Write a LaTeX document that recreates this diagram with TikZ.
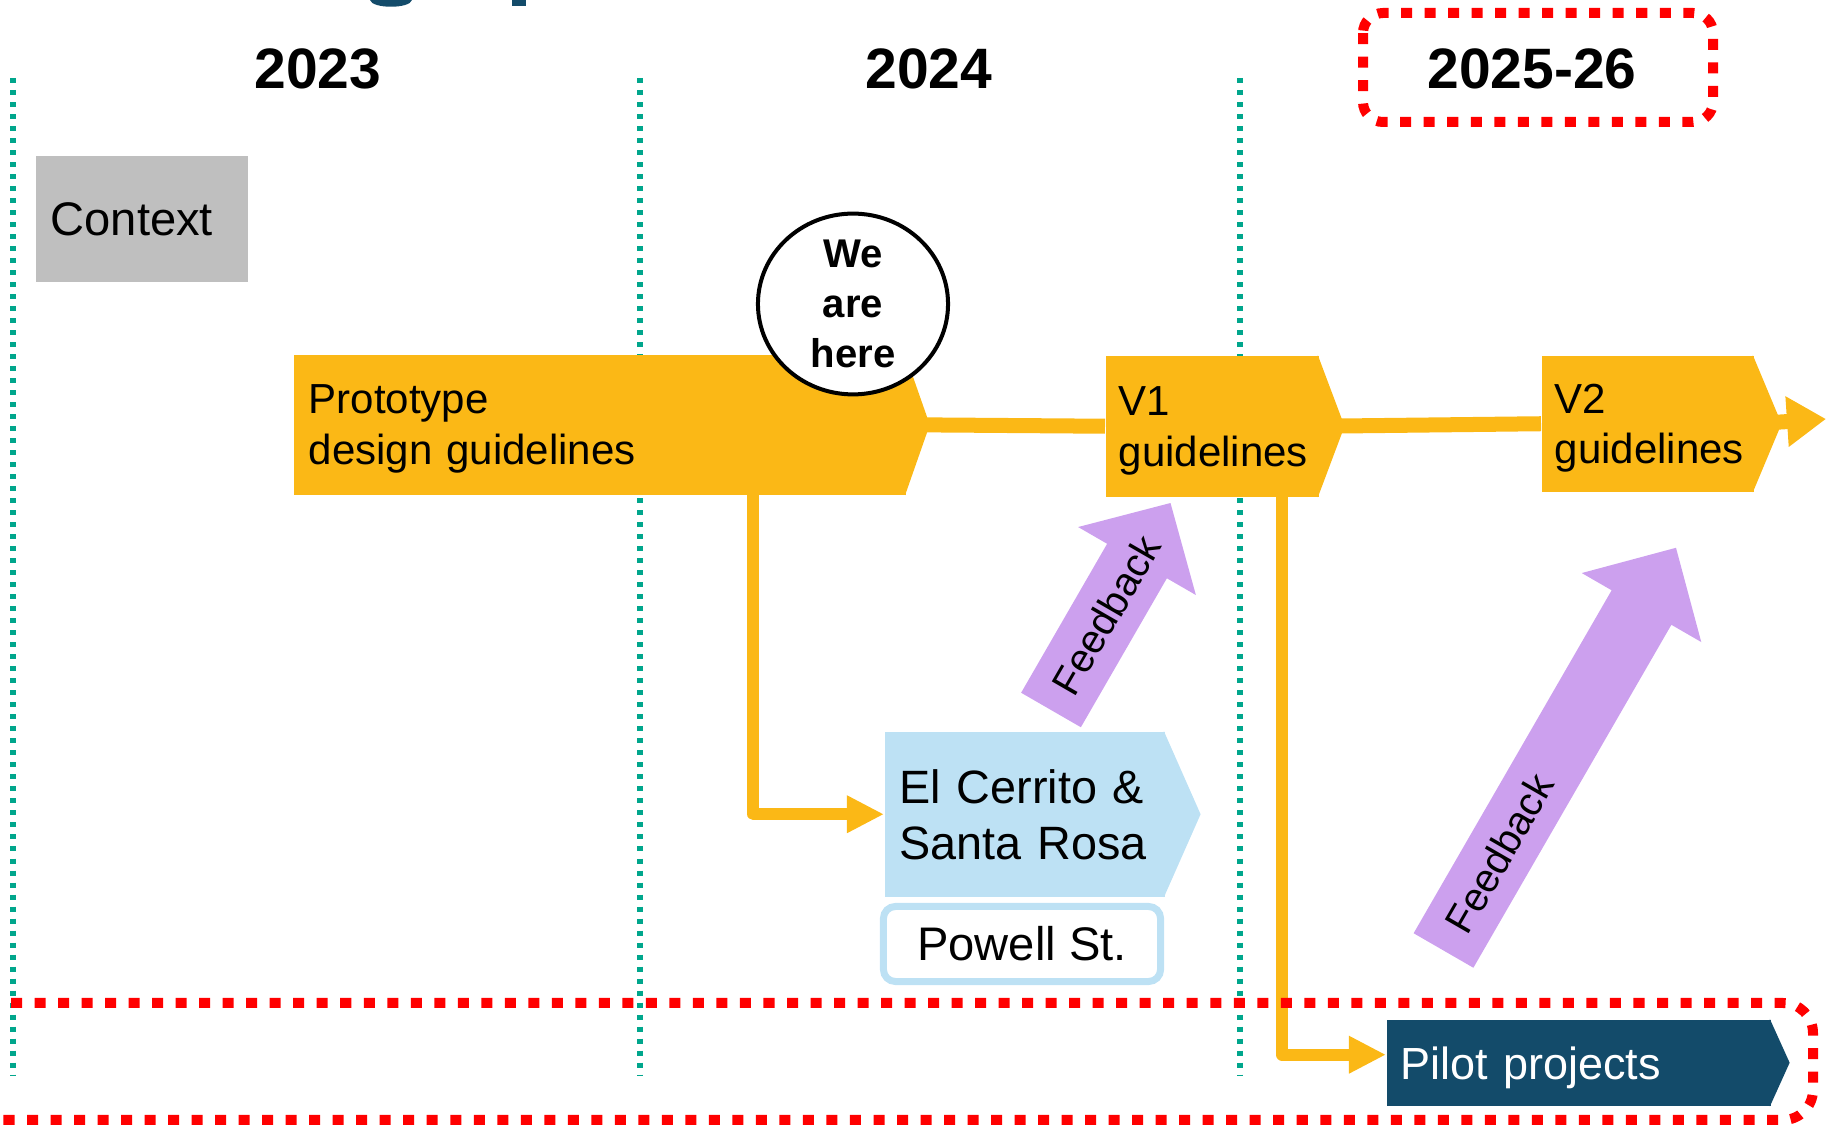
\documentclass[tikz,border=0pt]{standalone}
\usepackage{fontspec}
\setmainfont{Liberation Sans}
\usepackage{tikz}
\usetikzlibrary{arrows.meta,shapes.geometric,backgrounds}

\definecolor{guidegold}{RGB}{251,184,22}
\definecolor{divteal}{RGB}{0,166,140}
\definecolor{contextgray}{RGB}{191,191,191}
\definecolor{sitesblue}{RGB}{189,225,244}
\definecolor{fbpurple}{RGB}{204,160,238}
\definecolor{pilotnavy}{RGB}{19,75,106}
\definecolor{focusred}{RGB}{255,0,0}

% pointed right end of a stage box
\newcommand{\chevtip}[3]{\fill[#3] ([xshift=-0.5pt]#1.north east) -- ([xshift=#2]#1.east) -- ([xshift=-0.5pt]#1.south east) -- cycle;}

\begin{document}
\begin{tikzpicture}[x=0.01cm, y=-0.01cm]

% Define styles
\tikzstyle{year} = [font=\fontsize{16.2}{19}\selectfont\bfseries]
\tikzstyle{divider} = [draw=divteal, line width=0.06cm, dash pattern=on 0.05cm off 0.07cm]
\tikzstyle{focus} = [draw=focusred, line width=0.1cm, dash pattern=on 0.11cm off 0.125cm]
\tikzstyle{stage} = [anchor=north west, inner ysep=0pt, align=left, text depth=0pt]
\tikzstyle{guide} = [stage, fill=guidegold, inner xsep=0.13cm, text depth=14.4pt, font=\fontsize{11.95}{14.4}\selectfont]
\tikzstyle{spine} = [draw=guidegold, line width=0.15cm]
\tikzstyle{link} = [draw=guidegold, line width=0.12cm, line join=round, -{Triangle[length=0.37cm, width=0.35cm]}]
\tikzstyle{feedback} = [fill=fbpurple]
\tikzstyle{fbtext} = [font=\fontsize{11.4}{13}\selectfont, rotate=60]

\useasboundingbox (0,0) rectangle (1826,1125);

% title descenders cut off at the top
\fill[pilotnavy] (370,0) .. controls (372,9) and (410,9) .. (412,0) -- cycle;
\fill[pilotnavy] (512,0) rectangle (526,6);

% Years
\node[year] (y2023) at (318,69) {2023};
\node[year] (y2024) at (929,69) {2024};
\node[year] (y2025) at (1532,69) {2025-26};

% Context
\node[stage, fill=contextgray, inner xsep=0.15cm, text width=1.82cm, minimum height=1.26cm,
  font=\fontsize{13.4}{16}\selectfont] (context) at (35,155) {Context};

% Guideline stages
\node[guide, inner xsep=0.15cm, text width=5.82cm, minimum height=1.4cm] (proto) at (293,354) {Prototype\\design guidelines};
\node[guide, text width=1.87cm, minimum height=1.41cm] (v1) at (1105,355) {V1\\guidelines};
\node[guide, text width=1.86cm, minimum height=1.36cm] (v2) at (1541,355) {V2\\guidelines};
\chevtip{proto}{0.23cm}{guidegold}
\chevtip{v1}{0.25cm}{guidegold}
\chevtip{v2}{0.27cm}{guidegold}

% Sites
\node[stage, fill=sitesblue, inner xsep=0.15cm, text width=2.5cm, minimum height=1.65cm, text depth=15.9pt,
  font=\fontsize{13.3}{15.9}\selectfont] (cerrito) at (884,731) {El Cerrito \&\\Santa Rosa};
\chevtip{cerrito}{0.35cm}{sitesblue}
\node[draw=sitesblue, line width=0.07cm, fill=white, rounded corners=0.12cm, minimum width=2.77cm,
  minimum height=0.75cm, font=\fontsize{13.4}{16}\selectfont] (powell) at (1022,944) {Powell St.};

% Pilot projects
\node[stage, fill=pilotnavy, text=white, inner xsep=0.14cm, text width=3.56cm, minimum height=0.86cm,
  font=\fontsize{12.8}{15}\selectfont] (pilot) at (1386,1019) {Pilot projects};
\chevtip{pilot}{0.18cm}{pilotnavy}

\coordinate (ahead) at (1826,419);

% Dividers and connectors behind the boxes
\begin{scope}[on background layer]
\foreach \x in {13,640,1240} {
  \draw[divider] (\x,78) -- (\x,1075);
}
\draw[spine] (proto.east) -- (v1.west);
\draw[spine] (v1.east) -- (v2.west);
\draw[spine, -{Triangle[length=0.39cm, width=0.48cm]}] (v2.east) -- (ahead);
\draw[link] ([xshift=4.6cm]proto.south west) |- (cerrito.west);
\draw[link] ([xshift=1.77cm]v1.south west) |- ([yshift=0.08cm]pilot.west);
\end{scope}

% Feedback arrows
\begin{scope}[shift={(1051,710)}, rotate=60]
  \fill[feedback] (0,-34.5) -- (172,-34.5) -- (172,-68) -- (239,0) -- (172,68) -- (172,34.5) -- (0,34.5) -- cycle;
  \node[fbtext] (fb1) at (110,0) {Feedback};
\end{scope}
\begin{scope}[shift={(1443.5,950.5)}, rotate=60]
  \fill[feedback] (0,-34.5) -- (396,-34.5) -- (396,-69) -- (465,0) -- (396,69) -- (396,34.5) -- (0,34.5) -- cycle;
  \node[fbtext] (fb2) at (112,0) {Feedback};
\end{scope}

% We are here
\node[ellipse, draw=black, line width=0.04cm, fill=white, minimum width=1.9cm, minimum height=1.74cm,
  inner sep=0pt, align=center, font=\fontsize{11.4}{14.2}\selectfont\bfseries] (here) at (853,304) {We\\are\\here};

% Focus frames
\draw[focus, rounded corners=0.2cm] (1363,13) rectangle (1713,122);
\draw[focus, rounded corners=0.3cm] (-40,1003) rectangle (1813,1120);

\end{tikzpicture}
\end{document}
